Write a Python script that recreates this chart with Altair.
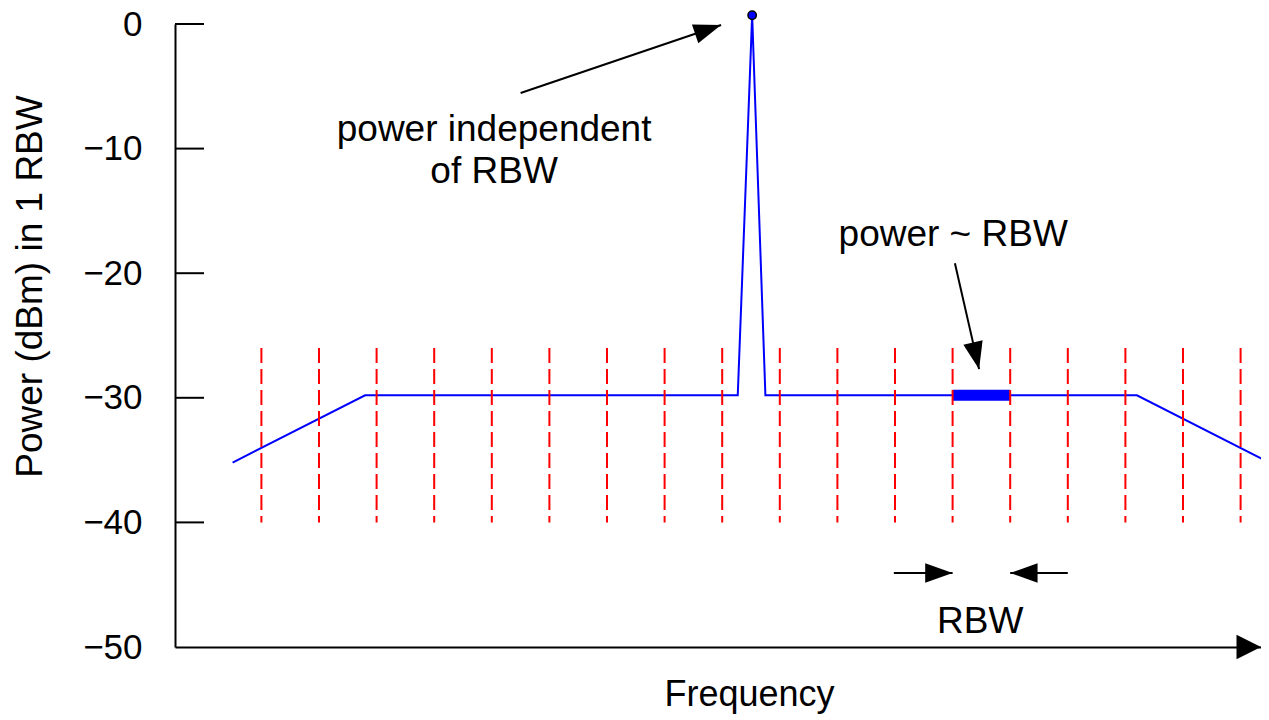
import math
import altair as alt
import pandas as pd

# ---------------- data ----------------
# spectrum trace: frequency (in RBW units) and power (dBm in 1 RBW)
trace_freq = [1.0, 3.3, 9.77, 10.02, 10.25, 16.7, 19.0]
trace_power = [-35.2, -29.8, -29.8, 0.7, -29.8, -29.8, -35.2]

# RBW bin boundaries (red dashed lines)
bin_edges = [1.5, 2.5, 3.5, 4.5, 5.5, 6.5, 7.5, 8.5, 9.5,
             10.5, 11.5, 12.5, 13.5, 14.5, 15.5, 16.5, 17.5, 18.5]
bin_top = [-26.0]
bin_bottom = [-40.0]

# highlighted single-RBW noise bin
bin_lo = [13.5]
bin_hi = [14.5]
bin_level = [-29.8]

# carrier peak marker
peak_freq = [10.02]
peak_power = [0.7]

# y axis ticks
y_ticks = [0, -10, -20, -30, -40, -50]

# ---------------- layout ----------------
PX_PER_RBW = 57.6
W, H = 1086, 623
X_DOMAIN = [0, W / PX_PER_RBW]
Y_DOMAIN = [-50, 0]
FONT = "Liberation Sans"
PX_X = W / (X_DOMAIN[1] - X_DOMAIN[0])
PX_Y = H / (Y_DOMAIN[1] - Y_DOMAIN[0])

xs = alt.Scale(domain=X_DOMAIN, nice=False, zero=False)
ys = alt.Scale(domain=Y_DOMAIN, nice=False, zero=False)

X_AX = alt.Axis(
    title="Frequency", labels=False, ticks=False, grid=False,
    domainColor="black", domainWidth=2,
    titleFont=FONT, titleFontSize=36, titleFontWeight="normal",
    titleColor="black", titleX=574, titleY=47,
    titleBaseline="middle", titleAlign="center")
Y_AX = alt.Axis(
    title="Power (dBm) in 1 RBW", values=y_ticks, grid=False,
    ticks=True, tickSize=0, tickWidth=0, labelPadding=33,
    labelFont=FONT, labelFontSize=35, labelColor="black",
    labelFlush=False, labelOverlap=False,
    domainColor="black", domainWidth=2,
    titleFont=FONT, titleFontSize=37, titleFontWeight="normal",
    titleColor="black", titleAngle=270, titleX=-145, titleY=262,
    titleBaseline="middle", titleAlign="center")


def X(field):
    return alt.X(field, scale=xs, axis=X_AX)


def Y(field):
    return alt.Y(field, scale=ys, axis=Y_AX)


trace_df = pd.DataFrame({"freq": trace_freq, "power": trace_power})
edges_df = pd.DataFrame({"freq": bin_edges,
                         "top": bin_top * len(bin_edges),
                         "bottom": bin_bottom * len(bin_edges)})
hl_df = pd.DataFrame({"lo": bin_lo, "hi": bin_hi, "level": bin_level})
peak_df = pd.DataFrame({"freq": peak_freq, "power": peak_power})
ticks_df = pd.DataFrame({"power": y_ticks[:-1]})

trace = alt.Chart(trace_df).mark_line(color="#0000FF", strokeWidth=2).encode(
    x=X("freq:Q"), y=Y("power:Q"))

yticks = alt.Chart(ticks_df).mark_rule(color="black", strokeWidth=2).encode(
    y=Y("power:Q"), x=alt.value(0), x2=alt.value(29))

highlight = alt.Chart(hl_df).mark_rule(color="#0000FF", strokeWidth=11, strokeCap="butt").encode(
    x=X("lo:Q"), x2="hi:Q", y=Y("level:Q"))

edges = alt.Chart(edges_df).mark_rule(color="#FF0000", strokeWidth=2, strokeDash=[15, 6]).encode(
    x=X("freq:Q"), y=Y("top:Q"), y2="bottom:Q")

peak = alt.Chart(peak_df).mark_circle(size=70, fill="#0000FF", stroke="black",
                                      strokeWidth=1.5, opacity=1).encode(
    x=X("freq:Q"), y=Y("power:Q"))

HEAD = "M0,0L-2,-0.72L-2,0.72Z"
AXIS_HEAD = "M0,0L-2,-1L-2,1Z"


def arrow(x1, y1, x2, y2, size=750, shaft=True, head=HEAD):
    ang = math.degrees(math.atan2(-(y2 - y1) * PX_Y, (x2 - x1) * PX_X)) % 360
    df = pd.DataFrame({"fx": [x1], "fy": [y1], "tx": [x2], "ty": [y2]})
    layers = []
    if shaft:
        layers.append(alt.Chart(df).mark_rule(color="black", strokeWidth=2).encode(
            x=X("fx:Q"), x2="tx:Q", y=Y("fy:Q"), y2="ty:Q"))
    layers.append(alt.Chart(df).mark_point(shape=head, filled=True, color="black",
                                           strokeWidth=0, opacity=1, size=size,
                                           angle=round(ang, 2)).encode(
        x=X("tx:Q"), y=Y("ty:Q")))
    return layers


def label(text, x, y, size=37):
    df = pd.DataFrame({"x": [x], "y": [y], "t": [text]})
    return alt.Chart(df).mark_text(font=FONT, fontSize=size, color="black",
                                   align="center", baseline="middle").encode(
        x=X("x:Q"), y=Y("y:Q"), text="t:N")


annotations = []
annotations += arrow(6.0, -5.54, 9.48, -0.08)
annotations += arrow(13.54, -19.2, 13.96, -27.7)
annotations += arrow(12.48, -44.06, 13.5, -44.06)
annotations += arrow(15.5, -44.06, 14.5, -44.06)
annotations += arrow(X_DOMAIN[1] - 0.3, -50, X_DOMAIN[1], -50, size=600,
                     shaft=False, head=AXIS_HEAD)
annotations += [
    label("power independent", 5.54, -8.51),
    label("of RBW", 5.54, -11.88),
    label("power ~ RBW", 13.51, -16.93),
    label("RBW", 13.98, -48.0),
]

chart = alt.layer(trace, highlight, edges, peak, yticks, *annotations).properties(
    width=W, height=H,
    autosize=alt.AutoSizeParams(type="none"),
    padding={"left": 167, "top": 16, "right": 0, "bottom": 68},
    background="white",
).configure_view(strokeWidth=0)

chart.save("out.html", embed_options={"renderer": "svg", "actions": False})
